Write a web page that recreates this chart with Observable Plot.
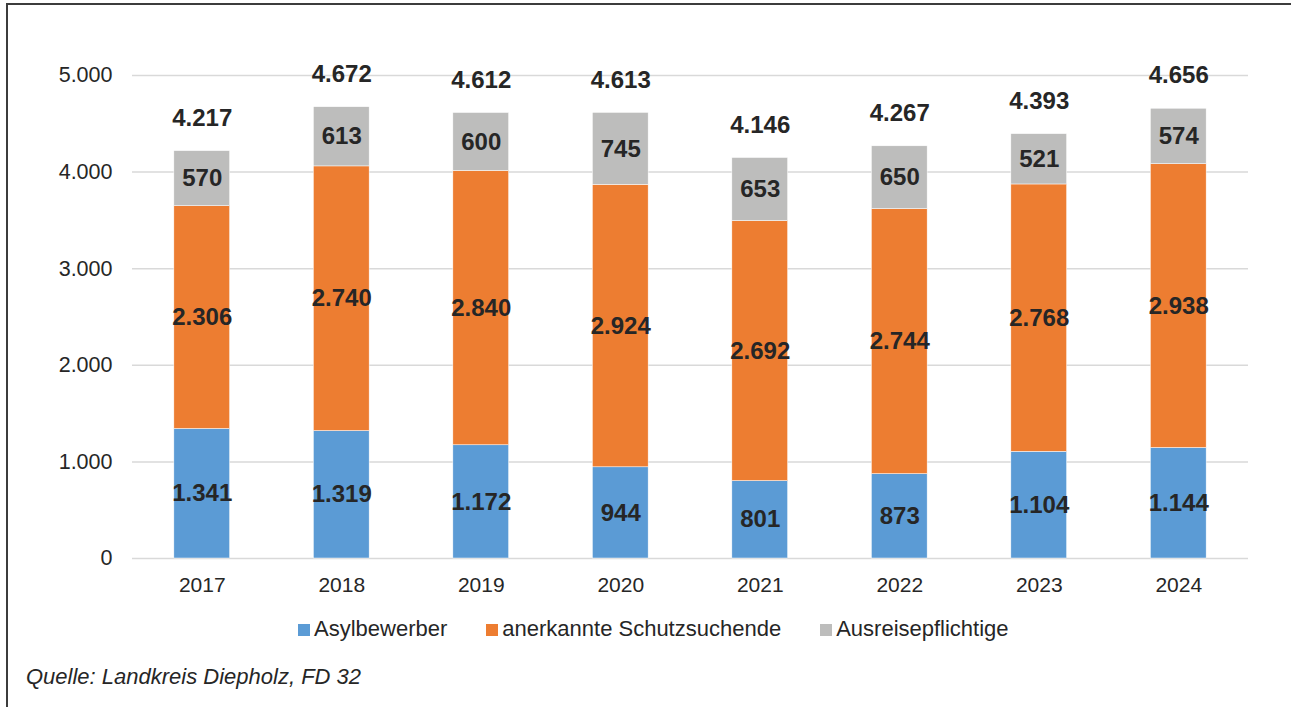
<!DOCTYPE html>
<html>
<head>
<meta charset="utf-8">
<script src="https://cdn.jsdelivr.net/npm/d3@7"></script>
<script src="https://cdn.jsdelivr.net/npm/@observablehq/plot@0.6"></script>
<style>
  html, body { margin: 0; padding: 0; background: #fff; }
  #wrap { position: relative; width: 1291px; height: 707px; overflow: hidden; font-family: "Liberation Sans", Arial, sans-serif; color: #262626; }
  #frame { position: absolute; left: 6px; top: 3px; right: -10px; bottom: -10px; border-top: 2px solid #3c3c3c; border-left: 2px solid #3c3c3c; }
  #chart { position: absolute; left: 0; top: 0; }
  #legend { position: absolute; left: 298px; top: 618px; display: flex; font-size: 22px; line-height: 22px; white-space: nowrap; }
  .item { display: flex; align-items: center; margin-right: 39px; }
  .sw { width: 12px; height: 12px; margin-right: 4px; position: relative; top: 1px; }
  #caption { position: absolute; left: 26px; top: 666px; font-size: 22px; line-height: 22px; font-style: italic; white-space: nowrap; }
</style>
</head>
<body>
<div id="wrap">
  <div id="frame"></div>
  <div id="chart"></div>
  <div id="legend"></div>
  <div id="caption"></div>
</div>
<script>
const years = ["2017", "2018", "2019", "2020", "2021", "2022", "2023", "2024"];
const asylbewerber = [1341, 1319, 1172, 944, 801, 873, 1104, 1144];
const anerkannteSchutzsuchende = [2306, 2740, 2840, 2924, 2692, 2744, 2768, 2938];
const ausreisepflichtige = [570, 613, 600, 745, 653, 650, 521, 574];
const totals = [4217, 4672, 4612, 4613, 4146, 4267, 4393, 4656];
const seriesNames = ["Asylbewerber", "anerkannte Schutzsuchende", "Ausreisepflichtige"];
const seriesColors = ["#5B9BD5", "#ED7D31", "#BDBDBC"];
const yTicks = [0, 1000, 2000, 3000, 4000, 5000];
const captionText = "Quelle: Landkreis Diepholz, FD 32";

const fmt = d3.formatLocale({decimal: ",", thousands: ".", grouping: [3], currency: ["", " €"]}).format(",");

const seriesValues = [asylbewerber, anerkannteSchutzsuchende, ausreisepflichtige];
const rows = [];
seriesNames.forEach((s, si) => {
  years.forEach((y, i) => rows.push({year: y, series: s, value: seriesValues[si][i]}));
});
const totalRows = years.map((y, i) => ({year: y, total: totals[i]}));

const chart = Plot.plot({
  width: 1291,
  height: 600,
  marginLeft: 132,
  marginRight: 43,
  marginTop: 75,
  marginBottom: 42,
  style: {fontFamily: "'Liberation Sans', Arial, sans-serif", color: "#262626", background: "transparent"},
  x: {domain: years, paddingInner: 0.6, paddingOuter: 0.3, round: false, label: null},
  y: {domain: [0, 5000], label: null},
  color: {domain: seriesNames, range: seriesColors},
  marks: [
    Plot.ruleY(yTicks, {stroke: "#d9d9d9", strokeWidth: 1.5}),
    Plot.barY(rows, {x: "year", y: "value", z: "series", fill: "series", stroke: "#ffffff", strokeWidth: 0.5}),
    Plot.text(rows, Plot.stackY({x: "year", y: "value", z: "series", text: d => fmt(d.value), fontSize: 24, fontWeight: "bold", fill: "#262626"})),
    Plot.text(totalRows, {x: "year", y: "total", text: d => fmt(d.total), dy: -33, fontSize: 24, fontWeight: "bold", fill: "#262626"}),
    Plot.axisY({ticks: yTicks, tickSize: 0, tickPadding: 20, tickFormat: fmt, fontSize: 21.5, label: null}),
    Plot.axisX({tickSize: 0, tickPadding: 19, fontSize: 21, label: null})
  ]
});
document.getElementById("chart").appendChild(chart);

const legend = document.getElementById("legend");
seriesNames.forEach((s, i) => {
  const item = document.createElement("div");
  item.className = "item";
  const sw = document.createElement("span");
  sw.className = "sw";
  sw.style.background = seriesColors[i];
  const t = document.createElement("span");
  t.textContent = s;
  item.appendChild(sw);
  item.appendChild(t);
  legend.appendChild(item);
});
document.getElementById("caption").textContent = captionText;
</script>
</body>
</html>
